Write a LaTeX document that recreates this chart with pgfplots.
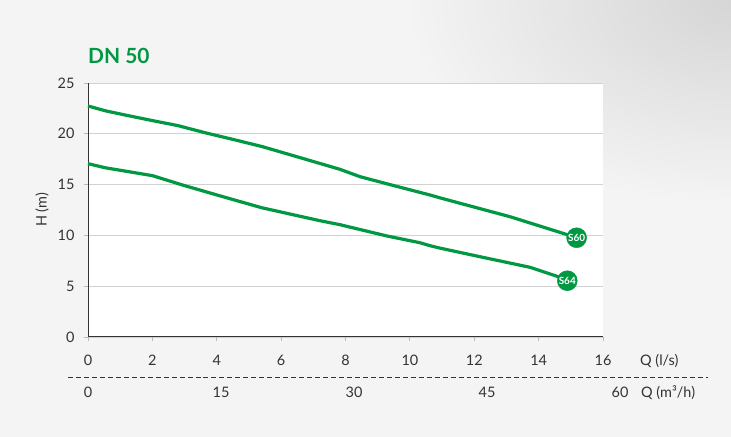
\documentclass[border=0pt]{standalone}
\usepackage{fontspec}
\setmainfont{Lato}
\usepackage{pgfplots}
\pgfplotsset{compat=1.18}
\usetikzlibrary{fadings}
\definecolor{pumpgreen}{RGB}{0,152,66}
\definecolor{bggray}{RGB}{244,244,244}
\definecolor{txt}{RGB}{51,51,51}
\tikzfading[name=cornerfade, inner color=transparent!0, outer color=transparent!100]
\pgfplotstableread{
x y
0 22.74
0.53 22.27
1.15 21.85
2.0 21.30
2.8 20.80
3.63 20.11
4.5 19.45
5.4 18.75
6.7 17.55
7.83 16.5
8.45 15.78
9.5 14.90
10.62 13.98
10.93 13.70
11.56 13.16
13.11 11.84
14.76 10.20
15.18 9.77
}\tabupper
\pgfplotstableread{
x y
0 17.06
0.53 16.66
2.0 15.88
3.0 14.90
4.2 13.80
5.4 12.72
7.2 11.45
7.83 11.05
9.29 9.94
10.31 9.28
10.62 8.99
10.93 8.75
12.18 7.90
13.73 6.86
14.66 5.88
14.89 5.54
}\tablower
\begin{document}
\begin{tikzpicture}[x=1bp,y=1bp]
\path[use as bounding box] (0,0) rectangle (731,437);
\fill[bggray] (0,0) rectangle (731,437);
\begin{scope}
\clip (0,0) rectangle (731,437);
\fill[black!16, path fading=cornerfade, fit fading=true] (411,237) rectangle (1051,637);
\end{scope}
\node[anchor=base west, font=\fontsize{21}{24}\selectfont\bfseries, text=pumpgreen, inner sep=0] at (88,373) {DN 50};
\draw[txt, line width=1, dash pattern=on 5 off 3] (68,59) -- (708,59);
\node[anchor=base west, inner sep=0, font=\fontsize{14.5}{16}\selectfont, text=txt] at (640,71) {Q (l/s)};
\node[anchor=base west, inner sep=0, font=\fontsize{14.5}{16}\selectfont, text=txt] at (641,39) {Q (m³/h)};
\begin{axis}[
  at={(88bp,100bp)}, anchor=south west,
  scale only axis, width=515bp, height=254bp,
  xmin=0, xmax=16, ymin=0, ymax=25,
  xtick={0,2,...,16}, ytick={0,5,...,25},
  axis x line*=bottom, axis y line*=left,
  axis line style={draw=txt, line width=1bp},
  ymajorgrids, grid style={gray!35, line width=0.8bp},
  tick style={gray!55, line width=0.8bp},
  major tick length=4bp, tick align=outside,
  /pgf/number format/assume math mode=true,
  ticklabel style={font=\fontsize{14.5}{16}\selectfont, text=txt},
  xticklabel style={anchor=base, yshift=-25bp},
  yticklabel style={anchor=east, xshift=-6bp},
  axis background/.style={fill=white},
  clip=false,
  ylabel={H (m)},
  every axis y label/.style={at={(axis description cs:-0.089,0.5)}, rotate=90, anchor=center, font=\fontsize{14.5}{16}\selectfont, text=txt},
]
\addplot[pumpgreen, line width=3.2bp, line join=round] table[x=x,y=y] {\tabupper};
\addplot[pumpgreen, line width=3.2bp, line join=round] table[x=x,y=y] {\tablower};
\addplot[only marks, mark=*, mark size=10bp, mark options={fill=pumpgreen, draw=pumpgreen},
  point meta=explicit symbolic, nodes near coords,
  nodes near coords style={anchor=center, text=white, font=\fontsize{10}{11}\selectfont\bfseries, inner sep=0}]
  coordinates {(15.18,9.77) [S60] (14.89,5.54) [S64]};
\end{axis}
\begin{axis}[
  at={(88bp,39bp)}, anchor=south west,
  scale only axis, width=532bp, height=10bp,
  xmin=0, xmax=60, ymin=0, ymax=1,
  hide y axis, axis x line*=bottom,
  x axis line style={draw=none},
  xtick={0,15,30,45,60}, major tick length=0pt,
  xtick style={draw=none},
  /pgf/number format/assume math mode=true,
  ticklabel style={font=\fontsize{14.5}{16}\selectfont, text=txt},
  xticklabel style={anchor=base, yshift=0bp},
]
\end{axis}
\end{tikzpicture}
\end{document}
